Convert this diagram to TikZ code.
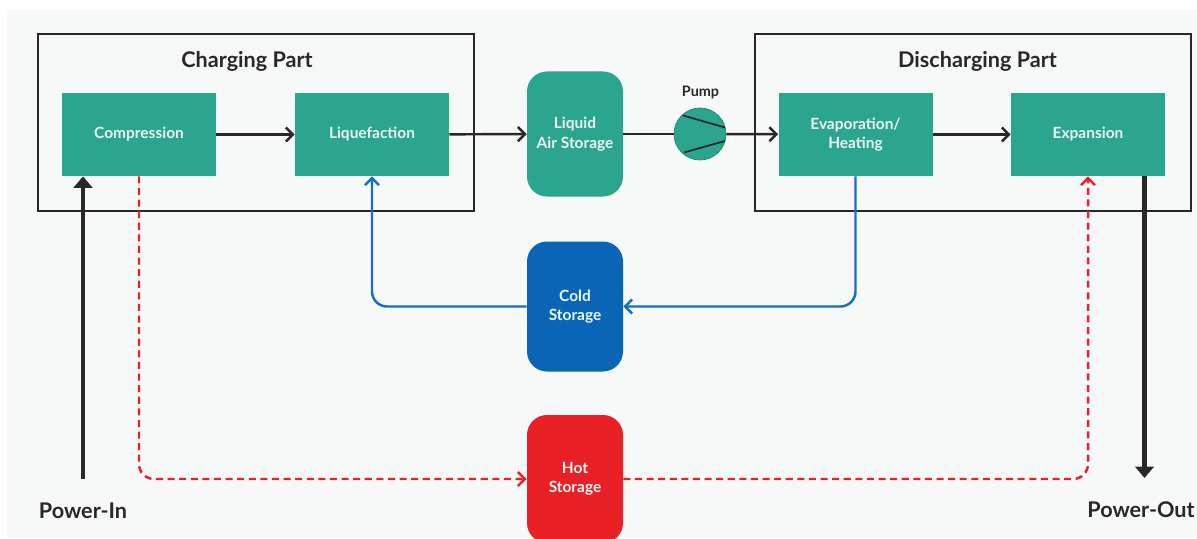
\documentclass[tikz,border=0pt]{standalone}
\usepackage{fontspec}
\setmainfont{Lato}
\definecolor{bgpaper}{RGB}{247,248,248}
\definecolor{frameink}{RGB}{40,40,40}
\definecolor{myteal}{RGB}{44,165,143}
\definecolor{coldblue}{RGB}{10,101,182}
\definecolor{coldline}{RGB}{24,110,196}
\definecolor{hotred}{RGB}{234,32,39}
\definecolor{boxtext}{RGB}{236,246,243}
\usepackage{tikz}
\usetikzlibrary{arrows.meta, positioning, calc}
\tikzset{
  proc/.style={fill=myteal, minimum width=3.08cm, minimum height=1.66cm,
               align=center, text=boxtext, font=\fontsize{8.8}{10.8}\selectfont\bfseries},
  tank/.style={fill=#1, rounded corners=0.4cm, minimum width=1.92cm,
               minimum height=2.56cm, align=center, text=boxtext,
               font=\fontsize{8.8}{11}\selectfont\bfseries},
  part/.style={draw=frameink, line width=1.2pt},
  arr/.style={-{Straight Barb[length=4pt, width=8pt]}, line width=1.4pt, frameink},
  pwr/.style={-{Triangle[length=6.5pt, width=10.5pt]}, line width=2.4pt, frameink},
}

\begin{document}
\begin{tikzpicture}[
      coldln/.style={arr, coldline, rounded corners=0.3cm},
      hotln/.style={arr, hotred, rounded corners=0.3cm, dash pattern=on 4pt off 2.6pt},
      title/.style={font=\fontsize{12.3}{14}\selectfont\bfseries, text=frameink},
    ]
    \useasboundingbox (0,0) rectangle (23.94,10.76);
    \fill[bgpaper] (0.14,0) rectangle (23.94,10.56);

    % ─── Charging part (left) ──────────────────────────────
    \draw[part] (0.76,6.54) rectangle (9.48,10.08);
    \node[title] (tch) at (4.94,9.54) {Charging Part};
    \node[proc] (comp) at (2.78,8.07) {Compression};
    \node[proc] (liq)  at (7.44,8.07) {Liquefaction};
    \draw[arr] (comp) -- (liq);

    % ─── Storage + pump (middle) ───────────────────────────
    \node[tank=myteal] (las) at (11.50,8.08) [minimum height=2.50cm] {Liquid\\Air Storage};
    \node[circle, fill=myteal, draw=myteal!80!black, line width=0.4pt,
          minimum size=1.04cm, inner sep=0pt] (pump) at (14.00,8.08) {};
    \node[font=\fontsize{8.2}{9.5}\selectfont\bfseries, text=frameink] (plab) at (14.01,8.91) {Pump};
    \draw[frameink, line width=1pt] ($(pump.center)+(-0.34,0.37)$) -- ($(pump.center)+(0.50,0.13)$);
    \draw[frameink, line width=1pt] ($(pump.center)+(-0.32,-0.37)$) -- ($(pump.center)+(0.50,-0.14)$);
    \draw[arr] (liq) -- (las);
    \draw[arr, -] (las) -- (pump);

    \node[tank=coldblue] (cold) at (11.50,4.63) [minimum height=2.60cm] {Cold\\Storage};
    \node[tank=hotred]   (hot)  at (11.50,1.18) {Hot\\Storage};

    % ─── Discharging part (right) ──────────────────────────
    \draw[part] (15.10,6.54) rectangle (23.82,10.08);
    \node[title] (tdis) at (19.55,9.54) {Discharging Part};
    \node[proc] (evap) at (17.11,8.07) {Evaporation/\\Heating};
    \node[proc] (exp)  at (21.76,8.07) {Expansion};
    \draw[arr] (pump) -- (evap);
    \draw[arr] (evap) -- (exp);

    % Cold loop
    \draw[coldln] (evap.south) |- (cold.east);
    \draw[coldln] (cold.west) -| (liq.south);

    % Heat loop
    \draw[hotln] (comp.south) |- (hot.west);
    \draw[hotln] (hot.east) -| (exp.south);

    % Power in / out
    \coordinate (pin)  at (1.66,1.18);
    \coordinate (pout) at (22.89,1.20);
    \draw[pwr] (pin) -- (pin |- comp.south);
    \draw[pwr] (pout |- exp.south) -- (pout);
    \node[title] (lin)  at (1.66,0.54) {Power-In};
    \node[title] (lout) at (22.82,0.56) {Power-Out};

  \end{tikzpicture}
\end{document}
